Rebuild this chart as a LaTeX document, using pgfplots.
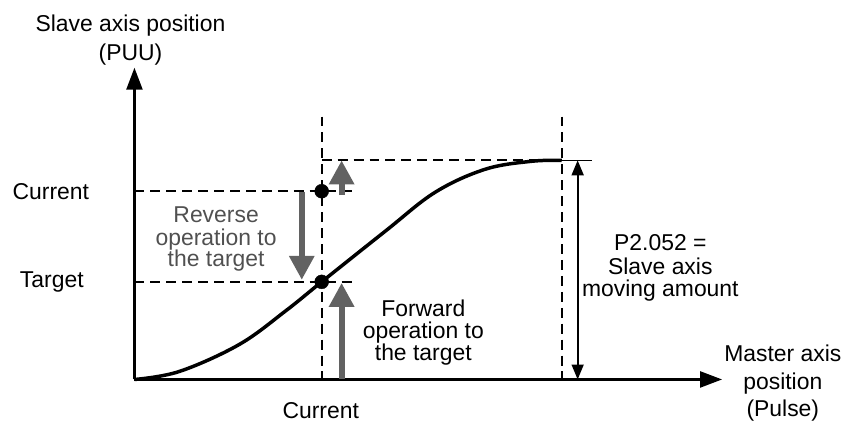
\documentclass[border=0pt]{standalone}
\usepackage{pgfplots}
\pgfplotsset{compat=1.18}
\usepackage{fontspec}
\setmainfont{Liberation Sans}
\usetikzlibrary{arrows.meta}
\definecolor{arrgray}{RGB}{98,98,98}
\definecolor{txtgray}{RGB}{80,80,80}
\begin{document}
\fontsize{23}{27}\selectfont
\begin{tikzpicture}
\begin{axis}[
  scale only axis, width=849pt, height=425pt,
  xmin=0, xmax=849, ymin=0, ymax=425, y dir=reverse,
  axis lines=none, clip=false,
  every node/.style={font=\fontsize{23}{27}\selectfont},
]
% dashed guides
\addplot[black, line width=1.8pt, dash pattern=on 10pt off 6pt] coordinates {(135,192) (357,192)};
\addplot[black, line width=1.8pt, dash pattern=on 10pt off 6pt] coordinates {(135,283) (357,283)};
\addplot[black, line width=1.8pt, dash pattern=on 10pt off 6pt] coordinates {(323,161) (564,161)};
\addplot[black, line width=1.5pt] coordinates {(564,161) (594,161)};
\addplot[black, line width=1.8pt, dash pattern=on 10pt off 6pt] coordinates {(323,117) (323,381)};
\addplot[black, line width=1.8pt, dash pattern=on 10pt off 6pt] coordinates {(564,117) (564,381)};
% curve
\addplot[black, line width=3.5pt, smooth, tension=0.6] coordinates {
 (135,381) (180,373) (240,346) (287,312) (323,283) (387,232) (437,193)
 (487,170) (533,162) (564,161)};
% axes
\addplot[black, line width=2.4pt, -{Triangle[length=22pt,width=16pt]}] coordinates {(135,381) (135,68)};
\addplot[black, line width=2.4pt, -{Triangle[length=22pt,width=16pt]}] coordinates {(135,381) (725,381)};
% double arrow
\addplot[black, line width=1.8pt, {Triangle[length=15pt,width=12pt]}-{Triangle[length=15pt,width=12pt]}] coordinates {(580,161) (580,381)};
% gray arrows
\addplot[arrgray, line width=6pt, -{Triangle[length=24pt,width=24pt]}] coordinates {(303,193) (303,281)};
\addplot[arrgray, line width=6pt, -{Triangle[length=24pt,width=24pt]}] coordinates {(343,196) (343,161)};
\addplot[arrgray, line width=6pt, -{Triangle[length=24pt,width=24pt]}] coordinates {(343,381) (343,284)};
% points
\addplot[only marks, mark=*, mark size=7pt, black] coordinates {(323,192) (323,283)};
% labels
\node[anchor=base] at (axis cs:131,32) {Slave axis position};
\node[anchor=base] at (axis cs:131,61) {(PUU)};
\node[anchor=base] at (axis cs:51,200) {Current};
\node[anchor=base] at (axis cs:52,289) {Target};
\node[anchor=base] at (axis cs:322,420) {Current};
\node[anchor=base, text=txtgray] at (axis cs:217,223) {Reverse};
\node[anchor=base, text=txtgray] at (axis cs:217,246) {operation to};
\node[anchor=base, text=txtgray] at (axis cs:217,268) {the target};
\node[anchor=base] at (axis cs:425,318) {Forward};
\node[anchor=base] at (axis cs:425,340) {operation to};
\node[anchor=base] at (axis cs:425,362) {the target};
\node[anchor=base] at (axis cs:663,252) {P2.052 =};
\node[anchor=base] at (axis cs:663,276) {Slave axis};
\node[anchor=base] at (axis cs:663,298) {moving amount};
\node[anchor=base] at (axis cs:786,363) {Master axis};
\node[anchor=base] at (axis cs:786,391) {position};
\node[anchor=base] at (axis cs:786,418) {(Pulse)};
\end{axis}
\path[use as bounding box] (current axis.south west) rectangle (current axis.north east);
\end{tikzpicture}
\end{document}
